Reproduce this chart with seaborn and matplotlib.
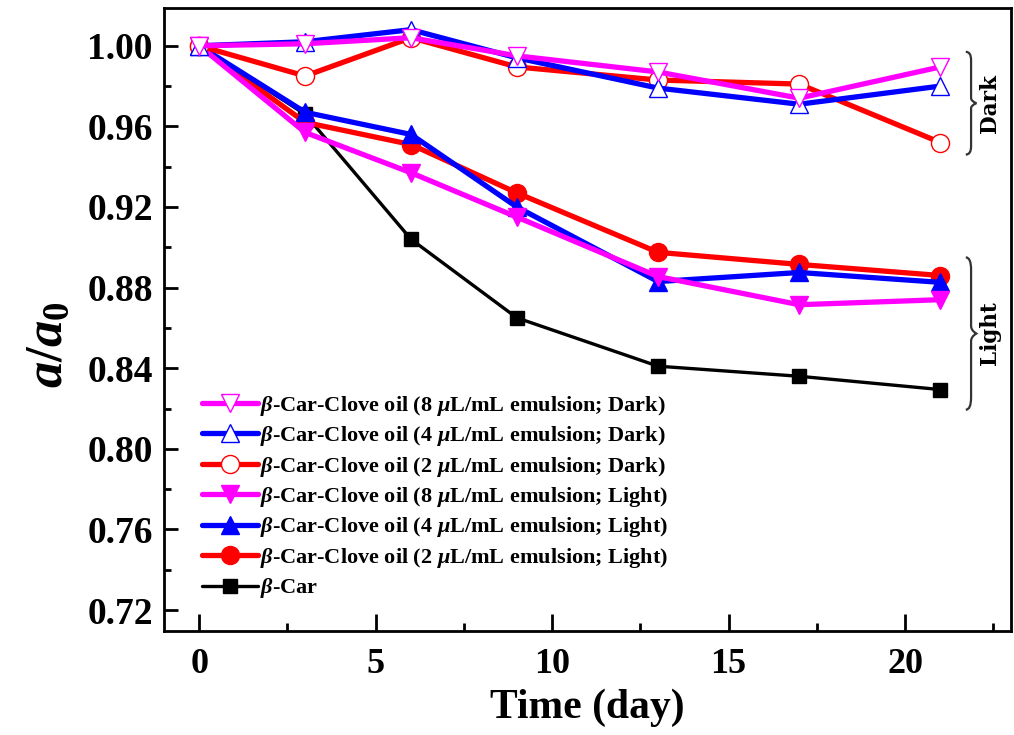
import numpy as np
import pandas as pd
import matplotlib
matplotlib.use("Agg")
import matplotlib.pyplot as plt
import seaborn as sns
from matplotlib.path import Path
from matplotlib.patches import PathPatch

days = [0, 3, 6, 9, 13, 17, 21]
dark8 = [1.000, 1.001, 1.004, 0.995, 0.987, 0.974, 0.9895]
dark4 = [1.000, 1.002, 1.008, 0.994, 0.979, 0.971, 0.980]
dark2 = [1.000, 0.985, 1.004, 0.9895, 0.983, 0.981, 0.952]
light8 = [1.000, 0.957, 0.937, 0.915, 0.8855, 0.8715, 0.874]
light4 = [1.000, 0.967, 0.956, 0.920, 0.883, 0.8875, 0.8826]
light2 = [1.000, 0.962, 0.951, 0.927, 0.8975, 0.8915, 0.886]
bcar = [1.000, 0.966, 0.904, 0.865, 0.841, 0.836, 0.8294]

labels = [
    r"$\beta$-Car-Clove oil (8 $\mu$L/mL emulsion; Dark)",
    r"$\beta$-Car-Clove oil (4 $\mu$L/mL emulsion; Dark)",
    r"$\beta$-Car-Clove oil (2 $\mu$L/mL emulsion; Dark)",
    r"$\beta$-Car-Clove oil (8 $\mu$L/mL emulsion; Light)",
    r"$\beta$-Car-Clove oil (4 $\mu$L/mL emulsion; Light)",
    r"$\beta$-Car-Clove oil (2 $\mu$L/mL emulsion; Light)",
    r"$\beta$-Car",
]
series = [dark8, dark4, dark2, light8, light4, light2, bcar]
colors = ["#FF00FF", "#0000FF", "#FF0000", "#FF00FF", "#0000FF", "#FF0000", "#000000"]
markers = ["v", "^", "o", "v", "^", "o", "s"]
filled = [False, False, False, True, True, True, True]

sns.set_style("ticks")
plt.rcParams["font.family"] = ["Liberation Serif", "DejaVu Serif"]
plt.rcParams["font.weight"] = "bold"
plt.rcParams["mathtext.fontset"] = "custom"
plt.rcParams["mathtext.it"] = "Liberation Serif:italic:bold"
plt.rcParams["mathtext.rm"] = "Liberation Serif:bold"
plt.rcParams["mathtext.bf"] = "Liberation Serif:bold"
for k in ["text.color", "axes.labelcolor", "xtick.color", "ytick.color", "axes.edgecolor"]:
    plt.rcParams[k] = "black"

fig = plt.figure(figsize=(10.14, 7.35), dpi=100)
ax = fig.add_axes([0.1617, 0.1415, 0.997 - 0.1617, 0.989 - 0.1415])

handles = [None] * 7
order = [6, 5, 4, 3, 2, 1, 0]
for z, i in enumerate(order):
    df = pd.DataFrame({"day": days, "val": series[i]})
    kw = dict(color=colors[i], marker=markers[i], markersize=13 if markers[i] != "s" else 9.5,
              linewidth=3.8 if i < 6 else 2.4,
              markeredgecolor=colors[i], markeredgewidth=1.0,
              markerfacecolor=colors[i] if filled[i] else "white", zorder=3 + z)
    sns.lineplot(data=df, x="day", y="val", ax=ax, sort=False, legend=False, **kw)
    handles[i] = ax.lines[-1]

ax.set_xlim(-1, 23)
ax.set_ylim(0.7096, 1.0187)
ax.set_xticks([0, 5, 10, 15, 20])
ax.set_xticks(np.arange(2.5, 23, 5), minor=True)
ax.set_yticks(np.round(np.arange(0.72, 1.001, 0.04), 2))
ax.set_yticks(np.round(np.arange(0.74, 1.01, 0.04), 2), minor=True)
ax.set_yticklabels([f"{v:.2f}" for v in np.arange(0.72, 1.001, 0.04)])
ax.tick_params(axis="both", which="both", direction="in", top=False, right=False)
ax.tick_params(axis="x", which="major", length=12, width=2, labelsize=26, pad=12)
ax.tick_params(axis="x", which="minor", length=6, width=2)
ax.tick_params(axis="y", which="major", length=10, width=2, labelsize=27, pad=8)
ax.tick_params(axis="y", which="minor", length=5, width=2)
for s in ax.spines.values():
    s.set_linewidth(2.0)
    s.set_color("black")

ax.set_xlabel("Time (day)", fontsize=30, fontweight="bold", labelpad=6)
ax.set_ylabel(r"$a/a_0$", fontsize=38)
ax.yaxis.set_label_coords(-0.108, 0.46)

leg = ax.legend(handles=handles, labels=labels, loc="lower left",
                bbox_to_anchor=(0.035, 0.035), frameon=False, fontsize=16,
                handlelength=2.5, handletextpad=0.1, labelspacing=0.29,
                borderaxespad=0.0)
leg.set_zorder(20)


def brace(x, y0, y1, w):
    ym = 0.5 * (y0 + y1)
    h = (y1 - y0)
    verts = [
        (x, y1), (x + w * 0.5, y1), (x + w * 0.5, y1 - h * 0.08), (x + w * 0.5, y1 - h * 0.15),
        (x + w * 0.5, ym + h * 0.05), (x + w * 0.5, ym + h * 0.02), (x + w, ym),
        (x + w * 0.5, ym - h * 0.02), (x + w * 0.5, ym - h * 0.05), (x + w * 0.5, ym - h * 0.15),
        (x + w * 0.5, y0 + h * 0.08), (x + w * 0.5, y0), (x, y0),
    ]
    codes = [Path.MOVETO, Path.CURVE3, Path.CURVE3, Path.LINETO,
             Path.LINETO, Path.CURVE3, Path.CURVE3,
             Path.CURVE3, Path.CURVE3, Path.LINETO,
             Path.LINETO, Path.CURVE3, Path.CURVE3]
    p = PathPatch(Path(verts, codes), fill=False, lw=1.6, color="#333333", zorder=10)
    ax.add_patch(p)


brace(21.72, 0.946, 0.997, 0.3)
brace(21.72, 0.8194, 0.895, 0.3)
ax.text(22.4, 0.9715, "Dark", rotation=90, ha="center", va="center",
        fontsize=15.5, fontweight="bold", family=["DejaVu Serif"])
ax.text(22.4, 0.8575, "Light", rotation=90, ha="center", va="center",
        fontsize=15.5, fontweight="bold", family=["DejaVu Serif"])

fig.savefig("out.png", dpi=100)
